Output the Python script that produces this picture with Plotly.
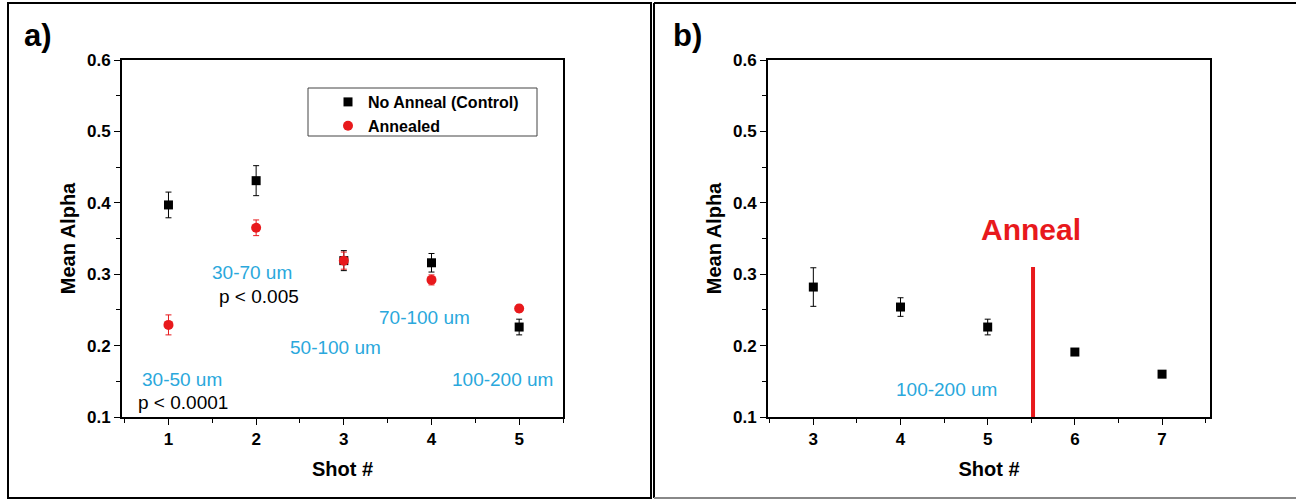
import plotly.graph_objects as go

# Panel a data
shots_a = [1, 2, 3, 4, 5]
control_a = [0.397, 0.431, 0.319, 0.316, 0.226]
control_err_a = [0.018, 0.021, 0.014, 0.013, 0.011]
annealed_a = [0.229, 0.365, 0.319, 0.292, 0.252]
annealed_err_a = [0.014, 0.011, 0.012, 0.007, 0.005]

size_labels_a = ["30-50 um", "30-70 um", "50-100 um", "70-100 um", "100-200 um"]
size_label_x_a = [1.15, 1.95, 2.91, 3.92, 4.81]
size_label_y_a = [0.153, 0.303, 0.197, 0.239, 0.152]
p_labels_a = ["p < 0.0001", "p < 0.005"]
p_label_x_a = [1.17, 2.03]
p_label_y_a = [0.120, 0.269]

# Panel b data
shots_b = [3, 4, 5, 6, 7]
control_b = [0.282, 0.254, 0.226, 0.191, 0.160]
control_err_b = [0.027, 0.013, 0.011, 0.003, 0.003]
anneal_x = 5.52
anneal_line_y = [0.1, 0.31]

W, H = 1296, 500
FONT = "Liberation Sans, Arial, sans-serif"
CYAN = "#2aa8dc"
RED = "#e8191c"


def px(x):
    return x / W


def py(y):
    return 1 - y / H


fig = go.Figure()

fig.add_trace(go.Scatter(
    x=shots_a, y=control_a, mode="markers", name="No Anneal (Control)",
    marker=dict(symbol="square", size=9, color="black"),
    error_y=dict(type="data", array=control_err_a, color="black", thickness=1, width=3),
    xaxis="x", yaxis="y"))
fig.add_trace(go.Scatter(
    x=shots_a, y=annealed_a, mode="markers", name="Annealed",
    marker=dict(symbol="circle", size=10, color=RED),
    error_y=dict(type="data", array=annealed_err_a, color=RED, thickness=1, width=3),
    xaxis="x", yaxis="y"))

fig.add_trace(go.Scatter(
    x=shots_b, y=control_b, mode="markers", showlegend=False,
    marker=dict(symbol="square", size=9, color="black"),
    error_y=dict(type="data", array=control_err_b, color="black", thickness=1, width=3),
    xaxis="x2", yaxis="y2"))
fig.add_trace(go.Scatter(
    x=[anneal_x, anneal_x], y=anneal_line_y, mode="lines", showlegend=False,
    line=dict(color=RED, width=4), xaxis="x2", yaxis="y2"))

annotations = []
for t, x, y in zip(size_labels_a, size_label_x_a, size_label_y_a):
    annotations.append(dict(x=x, y=y, xref="x", yref="y", text=t, showarrow=False,
                            font=dict(family=FONT, size=19, color=CYAN)))
for t, x, y in zip(p_labels_a, p_label_x_a, p_label_y_a):
    annotations.append(dict(x=x, y=y, xref="x", yref="y", text=t, showarrow=False,
                            font=dict(family=FONT, size=19, color="black")))
annotations.append(dict(x=4.53, y=0.138, xref="x2", yref="y2", text="100-200 um",
                        showarrow=False, font=dict(family=FONT, size=19, color=CYAN)))
annotations.append(dict(x=5.5, y=0.362, xref="x2", yref="y2", text="<b>Anneal</b>",
                        showarrow=False, font=dict(family=FONT, size=30, color=RED)))
annotations.append(dict(x=px(22), y=py(35), xref="paper", yref="paper",
                        text="<b>a)</b>", showarrow=False, xanchor="left", yanchor="middle",
                        font=dict(family=FONT, size=31, color="black")))
annotations.append(dict(x=px(671), y=py(35), xref="paper", yref="paper",
                        text="<b>b)</b>", showarrow=False, xanchor="left", yanchor="middle",
                        font=dict(family=FONT, size=31, color="black")))

shapes = [
    # panel a frame
    dict(type="rect", xref="paper", yref="paper", x0=px(8), x1=px(651),
         y0=py(498), y1=py(3), line=dict(color="black", width=2)),
    # panel b frame (open on the right)
    dict(type="line", xref="paper", yref="paper", x0=px(654), x1=1, y0=py(3), y1=py(3),
         line=dict(color="black", width=2)),
    dict(type="line", xref="paper", yref="paper", x0=px(654), x1=px(654), y0=py(3), y1=py(498),
         line=dict(color="black", width=2)),
    dict(type="line", xref="paper", yref="paper", x0=px(654), x1=1, y0=py(498), y1=py(498),
         line=dict(color="#888888", width=2)),
    # legend box
    dict(type="rect", xref="paper", yref="paper", x0=px(308), x1=px(537),
         y0=py(136), y1=py(88), line=dict(color="#444444", width=1), fillcolor="white",
         layer="below"),
]


def xax(domain, rng, tickvals):
    return dict(domain=domain, range=rng, tickvals=tickvals, ticks="outside", ticklen=6,
                tickwidth=1, tickcolor="black", showline=True, linecolor="black", linewidth=2,
                mirror=True, showgrid=False, zeroline=False, automargin=False,
                tickfont=dict(family=FONT, size=17, color="black", weight="bold"),
                title=dict(text="<b>Shot #</b>", font=dict(family=FONT, size=20, color="black"),
                           standoff=14),
                minor=dict(ticks="outside", ticklen=4, dtick=0.5, tickcolor="black"))


def yax(domain, anchor):
    return dict(domain=domain, range=[0.1, 0.6], anchor=anchor, dtick=0.1, tickformat=".1f",
                ticks="outside", ticklen=6, tickwidth=1, tickcolor="black", showline=True,
                linecolor="black", linewidth=2, mirror=True, showgrid=False, zeroline=False,
                automargin=False,
                tickfont=dict(family=FONT, size=17, color="black", weight="bold"),
                title=dict(text="<b>Mean Alpha</b>", font=dict(family=FONT, size=20, color="black"),
                           standoff=6),
                minor=dict(ticks="outside", ticklen=4, dtick=0.05, tickcolor="black"))


ydom = [py(417), py(60)]
fig.update_layout(
    width=W, height=H,
    margin=dict(l=0, r=0, t=0, b=0, pad=0, autoexpand=False),
    paper_bgcolor="white", plot_bgcolor="white",
    xaxis=dict(xax([px(122), px(563)], [0.47, 5.5], shots_a), anchor="y"),
    yaxis=yax(ydom, "x"),
    xaxis2=dict(xax([px(768), px(1210)], [2.48, 7.55], shots_b), anchor="y2"),
    yaxis2=yax(ydom, "x2"),
    annotations=annotations, shapes=shapes,
    legend=dict(x=px(328), y=py(85), xanchor="left", yanchor="top",
                borderwidth=0, bgcolor="rgba(0,0,0,0)",
                font=dict(family=FONT, size=16, color="black", weight="bold"),
                itemwidth=30, tracegroupgap=0),
    showlegend=True,
)

fig.write_html(
    "out.html",
    config={"displayModeBar": False},
    post_script="document.documentElement.style.margin='0';document.body.style.margin='0';"
                "document.body.style.overflow='hidden';document.documentElement.style.overflow='hidden';",
)
